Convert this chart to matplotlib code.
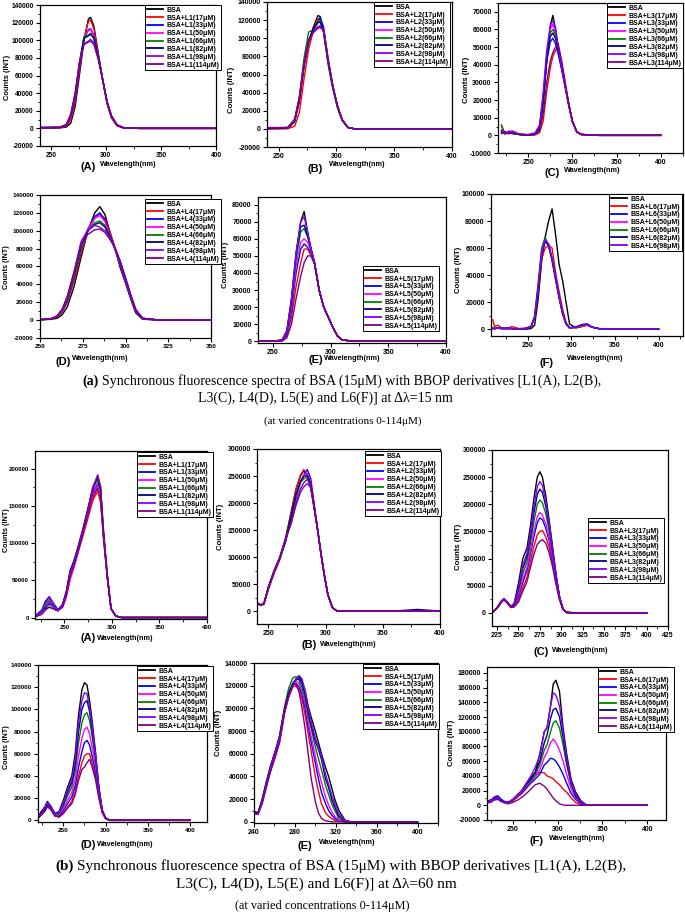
import matplotlib
matplotlib.use("Agg")
import matplotlib.pyplot as plt
from matplotlib.ticker import AutoMinorLocator, FuncFormatter

plt.rcParams['font.family'] = ['Liberation Sans', 'DejaVu Sans']
plt.rcParams['font.weight'] = 'bold'
plt.rcParams['axes.linewidth'] = 0.9

W, H = 685, 915

conc = ['17', '33', '50', '66', '82', '98', '114']
series_colors = ['#000000', '#ff0000', '#0000ff', '#ff00ff', '#008000', '#000080', '#8000ff', '#800080']

# ---------------- delta lambda = 15 nm ----------------
wl_a1 = [240, 258, 264, 268, 272, 276, 280, 284, 286, 289, 293, 297, 301, 305, 310, 316, 330, 400]
counts_a1 = [
    [0, 500, 1500, 6000, 25000, 62000, 100000, 124000, 126000, 116000, 85000, 55000, 28000, 12000, 3000, 500, 0, 0],
    [500, 800, 2500, 10000, 30000, 66000, 102000, 121000, 123000, 113000, 84000, 55000, 28000, 12000, 3000, 500, 0, 0],
    [1000, 1000, 3500, 13000, 34000, 70000, 102000, 112000, 113000, 106000, 82000, 55000, 29000, 13000, 3500, 600, 0, 0],
    [800, 1000, 3500, 13000, 35000, 72000, 104000, 111000, 112000, 105000, 81000, 55000, 29000, 13000, 3500, 600, 0, 0],
    [600, 1200, 4000, 15000, 38000, 76000, 104000, 106000, 108000, 103000, 81000, 55000, 30000, 14000, 4000, 700, 0, 0],
    [800, 1200, 4000, 15000, 38000, 75000, 102000, 105000, 107000, 102000, 80000, 55000, 30000, 14000, 4000, 700, 0, 0],
    [1200, 1300, 4500, 16000, 40000, 76000, 96000, 99000, 101000, 97000, 79000, 55000, 30000, 14000, 4000, 700, 0, 0],
    [600, 1300, 4500, 16000, 40000, 75000, 95000, 98000, 99000, 95000, 78000, 55000, 30000, 14000, 4000, 700, 0, 0],
]

wl_a2 = [240, 258, 264, 268, 272, 276, 280, 284, 286, 289, 293, 297, 301, 305, 310, 316, 330, 400]
counts_a2 = [
    [0, 500, 8000, 30000, 68000, 95000, 112000, 125000, 124000, 108000, 72000, 45000, 24000, 10000, 1500, 0, 0, 0],
    [0, 200, 3000, 18000, 55000, 88000, 108000, 122000, 120000, 106000, 72000, 45000, 24000, 10000, 1500, 0, 0, 0],
    [500, 1000, 9000, 32000, 70000, 96000, 110000, 118000, 123000, 112000, 75000, 46000, 25000, 10000, 1500, 0, 0, 0],
    [1000, 1500, 10000, 33000, 71000, 97000, 108000, 113000, 114000, 110000, 76000, 47000, 25000, 10000, 1500, 0, 0, 0],
    [500, 1500, 11000, 36000, 78000, 107000, 109000, 118000, 120000, 106000, 70000, 44000, 23000, 9000, 1500, 0, 0, 0],
    [500, 1200, 10000, 34000, 72000, 98000, 110000, 117000, 118000, 108000, 74000, 46000, 25000, 10000, 1500, 0, 0, 0],
    [1500, 1500, 10000, 34000, 72000, 97000, 107000, 112000, 113000, 109000, 76000, 47000, 25000, 10000, 1500, 0, 0, 0],
    [1000, 1500, 10000, 34000, 72000, 96000, 106000, 111000, 112000, 108000, 75000, 47000, 25000, 10000, 1500, 0, 0, 0],
]

wl_a3 = [220, 224, 228, 232, 240, 250, 258, 263, 267, 271, 275, 278, 281, 284, 288, 292, 296, 300, 305, 310, 330, 400]
counts_a3 = [
    [3000, 1000, 1500, 1000, 500, 0, 500, 3000, 18000, 42000, 62000, 68000, 60000, 50000, 38000, 28000, 17000, 8000, 2000, 500, 0, 0],
    [6000, 500, 2500, 1500, 800, 0, 300, 1500, 8000, 25000, 38000, 45000, 48000, 50000, 40000, 28000, 17000, 8000, 2000, 500, 0, 0],
    [2000, 1500, 1000, 2000, 500, 0, 800, 4000, 20000, 42000, 53000, 55000, 52000, 46000, 37000, 27000, 17000, 8000, 2000, 500, 0, 0],
    [1500, 1000, 2000, 1500, 800, 200, 1000, 5000, 22000, 45000, 60000, 63000, 58000, 48000, 38000, 28000, 17000, 8000, 2000, 500, 0, 0],
    [5000, 1000, 1500, 1000, 500, 0, 800, 4000, 21000, 44000, 58000, 60000, 57000, 49000, 40000, 29000, 18000, 8000, 2000, 500, 0, 0],
    [2000, 2000, 1000, 1500, 500, 0, 800, 4000, 20000, 42000, 56000, 58000, 55000, 48000, 38000, 28000, 17000, 8000, 2000, 500, 0, 0],
    [2500, 1500, 2000, 2500, 800, 500, 1500, 6000, 24000, 48000, 62000, 65000, 61000, 50000, 38000, 27000, 17000, 8000, 2000, 500, 0, 0],
    [1000, 1500, 1000, 1500, 500, 0, 500, 2500, 12000, 30000, 42000, 47000, 50000, 52000, 42000, 30000, 18000, 8000, 2000, 500, 0, 0],
]

wl_a4 = [250, 256, 260, 263, 266, 270, 274, 278, 282, 285, 288, 291, 294, 297, 300, 303, 306, 310, 320, 335, 350]
counts_a4 = [
    [500, 800, 2000, 6000, 15000, 38000, 70000, 100000, 120000, 127000, 118000, 98000, 80000, 58000, 42000, 24000, 8000, 1000, 0, 0, 0],
    [500, 1000, 3000, 9000, 20000, 44000, 74000, 100000, 114000, 118000, 114000, 98000, 80000, 60000, 42000, 25000, 9000, 1500, 0, 0, 500],
    [800, 1000, 3500, 10000, 22000, 48000, 78000, 102000, 116000, 120000, 112000, 95000, 78000, 60000, 42000, 25000, 9000, 1500, 0, 0, 0],
    [600, 1200, 4000, 11000, 24000, 50000, 80000, 102000, 114000, 117000, 110000, 95000, 78000, 62000, 44000, 26000, 10000, 2000, 0, 500, 0],
    [500, 1200, 4000, 11000, 24000, 50000, 80000, 100000, 109000, 111000, 106000, 94000, 80000, 63000, 45000, 27000, 11000, 2000, 0, 0, 0],
    [500, 1300, 4500, 12000, 26000, 53000, 84000, 100000, 107000, 109000, 104000, 93000, 80000, 64000, 46000, 28000, 11000, 2000, 0, 0, 0],
    [500, 1300, 4500, 12000, 27000, 55000, 88000, 101000, 106000, 104000, 100000, 92000, 80000, 65000, 47000, 28000, 12000, 2000, 0, 500, 0],
    [400, 1300, 4500, 12000, 26000, 54000, 84000, 96000, 101000, 102000, 98000, 90000, 80000, 66000, 48000, 29000, 12000, 2000, 0, 0, 0],
]

wl_a5 = [238, 250, 258, 262, 266, 270, 274, 277, 280, 283, 286, 290, 294, 298, 302, 306, 310, 320, 350, 400]
counts_a5 = [
    [0, 0, 800, 6000, 24000, 50000, 70000, 76000, 64000, 54000, 46000, 30000, 20000, 14000, 8000, 3000, 800, 0, 0, 0],
    [0, 0, 300, 3000, 14000, 32000, 46000, 54000, 54000, 50000, 46000, 30000, 20000, 14000, 8000, 3000, 800, 0, 0, 0],
    [0, 0, 500, 4000, 18000, 40000, 54000, 57000, 55000, 52000, 46000, 30000, 20000, 14000, 8000, 3000, 800, 0, 0, 0],
    [0, 0, 600, 5000, 20000, 44000, 58000, 60000, 58000, 53000, 46000, 30000, 20000, 14000, 8000, 3000, 800, 0, 0, 0],
    [0, 0, 700, 5500, 22000, 48000, 64000, 66000, 61000, 54000, 46000, 30000, 20000, 14000, 8000, 3000, 800, 0, 0, 0],
    [0, 0, 800, 6000, 24000, 52000, 67000, 68000, 62000, 54000, 46000, 30000, 20000, 14000, 8000, 3000, 800, 0, 0, 0],
    [0, 0, 800, 6000, 25000, 52000, 70000, 73000, 64000, 54000, 46000, 30000, 20000, 14000, 8000, 3000, 800, 0, 0, 0],
    [0, 0, 200, 2000, 10000, 25000, 38000, 46000, 50000, 50000, 45000, 30000, 20000, 14000, 8000, 3000, 800, 0, 0, 0],
]

wl_a6 = [210, 212, 216, 220, 226, 232, 240, 248, 254, 258, 262, 266, 270, 274, 278, 282, 286, 290, 294, 298, 305, 312, 318, 324, 335, 400]
counts_a6 = [
    [500, 500, 1000, 800, 1000, 500, 0, 0, 500, 3000, 22000, 50000, 68000, 80000, 89000, 70000, 48000, 36000, 20000, 4000, 1000, 2000, 3000, 1500, 0, 0],
    [7000, 2000, 3000, 1000, 500, 2000, 500, 1000, 2000, 8000, 28000, 52000, 60000, 62000, 60000, 42000, 28000, 15000, 5000, 1500, 1000, 2000, 3000, 1500, 0, 0],
    [1000, 500, 800, 500, 500, 500, 0, 500, 2000, 9000, 30000, 55000, 65000, 62000, 52000, 38000, 24000, 12000, 4000, 1000, 1500, 3000, 3500, 1500, 0, 0],
    [500, 500, 800, 500, 500, 500, 0, 500, 2000, 9000, 31000, 56000, 66000, 63000, 52000, 38000, 24000, 12000, 4000, 1000, 1500, 3000, 3500, 1500, 0, 0],
    [1000, 500, 800, 500, 500, 500, 0, 500, 2500, 10000, 34000, 60000, 68000, 62000, 50000, 36000, 23000, 11000, 4000, 1000, 1500, 3000, 3500, 1500, 0, 0],
    [500, 500, 800, 500, 500, 500, 0, 500, 2000, 9000, 30000, 56000, 65000, 62000, 52000, 38000, 24000, 12000, 4000, 1000, 1500, 3500, 4000, 1500, 0, 0],
    [500, 500, 800, 500, 500, 500, 0, 500, 2000, 9000, 31000, 57000, 66000, 63000, 52000, 38000, 24000, 12000, 4000, 1000, 1500, 3000, 3500, 1500, 0, 0],
]

# ---------------- delta lambda = 60 nm ----------------
wl_b1 = [220, 226, 230, 234, 238, 243, 248, 252, 256, 260, 265, 270, 275, 280, 285, 288, 291, 295, 299, 304, 310, 340, 400]
counts_b1 = [
    [3000, 8000, 12000, 14000, 12000, 9000, 18000, 35000, 62000, 75000, 96000, 118000, 140000, 162000, 175000, 160000, 110000, 55000, 12000, 2000, 0, 0, 0],
    [2000, 8000, 20000, 25000, 18000, 10000, 14000, 28000, 52000, 68000, 90000, 112000, 135000, 158000, 170000, 155000, 108000, 55000, 12000, 2000, 0, 0, 0],
    [3000, 10000, 22000, 28000, 20000, 11000, 16000, 32000, 58000, 72000, 95000, 118000, 142000, 168000, 180000, 165000, 112000, 56000, 12000, 2000, 0, 0, 0],
    [2000, 8000, 18000, 24000, 18000, 10000, 14000, 28000, 52000, 68000, 92000, 116000, 140000, 165000, 178000, 163000, 110000, 55000, 12000, 2000, 0, 0, 0],
    [2000, 8000, 18000, 22000, 17000, 10000, 16000, 34000, 62000, 76000, 98000, 122000, 148000, 174000, 185000, 168000, 113000, 56000, 12000, 2000, 0, 0, 0],
    [2000, 7000, 14000, 18000, 15000, 10000, 17000, 35000, 63000, 76000, 98000, 122000, 148000, 176000, 188000, 172000, 115000, 57000, 12000, 2000, 0, 0, 0],
    [2000, 7000, 15000, 20000, 16000, 10000, 16000, 33000, 60000, 74000, 96000, 120000, 146000, 176000, 192000, 176000, 118000, 58000, 12000, 2000, 0, 0, 0],
    [1000, 4000, 10000, 14000, 12000, 9000, 14000, 30000, 56000, 70000, 92000, 116000, 140000, 172000, 190000, 176000, 118000, 58000, 12000, 2000, 0, 0, 0],
]

wl_b2 = [240, 243, 246, 250, 255, 260, 265, 270, 274, 278, 281, 284, 287, 290, 293, 296, 299, 302, 306, 310, 320, 360, 380, 400]
counts_b2 = [
    [15000, 11000, 14000, 45000, 75000, 100000, 135000, 185000, 225000, 250000, 260000, 250000, 228000, 190000, 150000, 105000, 65000, 30000, 6000, 0, 0, 0, 0, 0],
    [16000, 12000, 12000, 40000, 70000, 95000, 132000, 182000, 225000, 252000, 262000, 252000, 228000, 190000, 150000, 105000, 65000, 30000, 6000, 0, 0, 0, 0, 0],
    [14000, 11000, 13000, 42000, 72000, 98000, 130000, 170000, 208000, 238000, 252000, 262000, 245000, 198000, 152000, 106000, 65000, 30000, 6000, 0, 0, 0, 0, 0],
    [15000, 11000, 13000, 43000, 73000, 98000, 128000, 172000, 212000, 240000, 252000, 255000, 238000, 195000, 150000, 105000, 65000, 30000, 6000, 0, 0, 0, 0, 0],
    [14000, 11000, 13000, 43000, 73000, 98000, 130000, 178000, 215000, 238000, 245000, 248000, 232000, 192000, 150000, 105000, 65000, 30000, 6000, 0, 0, 0, 0, 0],
    [14000, 11000, 13000, 43000, 73000, 98000, 130000, 176000, 215000, 240000, 250000, 250000, 235000, 194000, 150000, 105000, 65000, 30000, 6000, 0, 0, 0, 3000, 0],
    [15000, 11000, 14000, 45000, 75000, 100000, 132000, 165000, 195000, 220000, 230000, 236000, 228000, 192000, 150000, 105000, 65000, 30000, 6000, 0, 0, 0, 0, 0],
    [15000, 11000, 14000, 44000, 74000, 100000, 135000, 162000, 198000, 226000, 238000, 244000, 232000, 193000, 150000, 105000, 65000, 30000, 6000, 0, 0, 0, 0, 0],
]

wl_b3 = [220, 225, 230, 233, 237, 241, 245, 250, 255, 260, 264, 268, 272, 275, 278, 282, 286, 290, 294, 298, 302, 306, 320, 360, 400]
counts_b3 = [
    [2000, 10000, 22000, 26000, 20000, 12000, 18000, 55000, 100000, 120000, 160000, 210000, 250000, 260000, 250000, 215000, 170000, 120000, 70000, 30000, 8000, 1000, 0, 0, 0],
    [2000, 9000, 21000, 25000, 19000, 10000, 12000, 24000, 46000, 66000, 94000, 122000, 144000, 150000, 152000, 140000, 120000, 90000, 56000, 26000, 7000, 1000, 0, 0, 0],
    [2000, 10000, 22000, 26000, 20000, 11000, 13000, 30000, 56000, 78000, 108000, 140000, 166000, 175000, 172000, 156000, 132000, 98000, 60000, 27000, 7000, 1000, 0, 0, 0],
    [2000, 9000, 21000, 25000, 19000, 11000, 14000, 34000, 62000, 84000, 115000, 150000, 178000, 185000, 180000, 164000, 138000, 102000, 62000, 28000, 7000, 1000, 0, 0, 0],
    [2000, 9000, 20000, 25000, 19000, 11000, 15000, 40000, 72000, 95000, 128000, 168000, 200000, 208000, 203000, 182000, 150000, 110000, 66000, 29000, 8000, 1000, 0, 0, 0],
    [2000, 9000, 20000, 25000, 19000, 11000, 16000, 45000, 82000, 104000, 140000, 184000, 218000, 228000, 222000, 196000, 160000, 115000, 68000, 30000, 8000, 1000, 0, 0, 0],
    [2000, 10000, 22000, 26000, 20000, 12000, 17000, 48000, 88000, 110000, 148000, 195000, 232000, 242000, 235000, 205000, 165000, 118000, 70000, 30000, 8000, 1000, 0, 0, 0],
    [2000, 9000, 20000, 24000, 18000, 10000, 11000, 20000, 40000, 58000, 84000, 108000, 126000, 132000, 135000, 128000, 110000, 84000, 52000, 24000, 6000, 1000, 0, 0, 0],
]

wl_b4 = [220, 224, 228, 231, 235, 240, 245, 250, 255, 260, 264, 268, 272, 275, 278, 281, 284, 288, 292, 296, 300, 305, 310, 330, 370, 400]
counts_b4 = [
    [3000, 8000, 12000, 17000, 13000, 6000, 8000, 18000, 30000, 40000, 60000, 95000, 118000, 124000, 122000, 108000, 90000, 62000, 30000, 9000, 2000, 0, 0, 0, 0, 0],
    [2000, 5000, 9000, 13000, 10000, 4000, 3000, 7000, 12000, 17000, 26000, 40000, 52000, 58000, 60000, 60000, 52000, 40000, 22000, 7000, 1500, 0, 0, 0, 0, 0],
    [2000, 5000, 9000, 13000, 11000, 4000, 4000, 9000, 15000, 21000, 31000, 48000, 62000, 70000, 72000, 68000, 58000, 44000, 24000, 8000, 2000, 0, 0, 0, 0, 0],
    [2000, 5000, 9000, 13000, 11000, 5000, 5000, 11000, 18000, 25000, 37000, 58000, 74000, 82000, 84000, 78000, 66000, 49000, 26000, 8000, 2000, 0, 0, 0, 0, 0],
    [2000, 6000, 10000, 14000, 12000, 5000, 6000, 13000, 22000, 30000, 45000, 70000, 88000, 95000, 97000, 90000, 76000, 55000, 28000, 9000, 2000, 0, 0, 0, 0, 0],
    [2000, 6000, 10000, 14000, 12000, 6000, 7000, 15000, 25000, 34000, 50000, 80000, 100000, 106000, 108000, 98000, 82000, 58000, 29000, 9000, 2000, 0, 0, 0, 0, 0],
    [2000, 6000, 12000, 16000, 13000, 6000, 7000, 16000, 27000, 37000, 55000, 88000, 108000, 115000, 114000, 102000, 86000, 60000, 30000, 9000, 2000, 0, 0, 0, 0, 0],
    [2000, 5000, 8000, 12000, 10000, 4000, 3000, 6000, 11000, 15000, 23000, 36000, 46000, 48000, 52000, 55000, 48000, 37000, 20000, 7000, 1500, 0, 0, 0, 0, 0],
]

wl_b5 = [240, 244, 248, 252, 256, 261, 265, 270, 274, 278, 281, 284, 287, 290, 293, 296, 300, 303, 306, 310, 313, 316, 319, 323, 329, 335, 360, 400]
counts_b5 = [
    [9000, 8000, 20000, 35000, 48000, 62000, 75000, 100000, 113000, 122000, 126000, 128000, 124000, 116000, 102000, 92000, 80000, 70000, 60000, 48000, 40000, 30000, 20000, 10000, 1500, 0, 0, 0],
    [8000, 7000, 17000, 31000, 44000, 58000, 70000, 96000, 110000, 119000, 120000, 116000, 108000, 94000, 78000, 62000, 40000, 27000, 16000, 8000, 5000, 3000, 1500, 500, 0, 0, 0, 0],
    [8000, 7000, 18000, 33000, 47000, 61000, 73000, 99000, 113000, 121000, 122000, 119000, 112000, 100000, 84000, 70000, 52000, 38000, 26000, 16000, 10000, 6000, 3000, 1000, 0, 0, 0, 0],
    [7000, 7000, 17000, 32000, 46000, 60000, 72000, 98000, 112000, 121000, 124000, 122000, 115000, 104000, 88000, 75000, 58000, 45000, 35000, 22000, 15000, 9000, 5000, 1500, 0, 0, 0, 0],
    [8000, 8000, 19000, 35000, 49000, 63000, 76000, 102000, 118000, 127000, 128000, 125000, 118000, 108000, 93000, 82000, 66000, 56000, 46000, 32000, 24000, 16000, 10000, 3000, 0, 0, 0, 0],
    [9000, 8000, 19000, 34000, 48000, 63000, 75000, 100000, 114000, 122000, 125000, 126000, 122000, 112000, 97000, 85000, 71000, 64000, 55000, 38000, 30000, 20000, 13000, 5000, 500, 0, 0, 0],
    [8000, 7000, 18000, 33000, 47000, 62000, 74000, 98000, 110000, 120000, 126000, 129000, 126000, 115000, 100000, 88000, 74000, 66000, 58000, 42000, 33000, 24000, 16000, 7000, 1000, 0, 0, 0],
    [7000, 7000, 16000, 30000, 44000, 58000, 70000, 97000, 112000, 120000, 122000, 115000, 100000, 82000, 60000, 38000, 18000, 8000, 3000, 1000, 500, 0, 0, 0, 0, 0, 0, 0],
]

wl_b6 = [220, 225, 229, 233, 237, 241, 245, 250, 255, 260, 265, 270, 275, 280, 285, 288, 292, 295, 298, 302, 306, 310, 315, 320, 326, 332, 340, 370, 400]
counts_b6 = [
    [5000, 7000, 9000, 9000, 6000, 4000, 4000, 8000, 14000, 20000, 30000, 38000, 45000, 70000, 100000, 105000, 135000, 165000, 170000, 155000, 105000, 70000, 35000, 18000, 6000, 500, 0, 0, 0],
    [4000, 6000, 11000, 12000, 7000, 4000, 3000, 6000, 11000, 16000, 23000, 32000, 40000, 45000, 44000, 40000, 38000, 36000, 32000, 28000, 22000, 18000, 10000, 4000, 500, 0, 0, 0, 0],
    [4000, 6000, 11000, 13000, 8000, 5000, 4000, 7000, 12000, 17000, 24000, 30000, 36000, 42000, 55000, 58000, 64000, 63000, 60000, 52000, 42000, 30000, 16000, 8000, 2000, 0, 0, 0, 0],
    [5000, 6000, 9000, 10000, 6000, 4000, 4000, 7000, 12000, 18000, 26000, 32000, 40000, 48000, 65000, 72000, 85000, 90000, 85000, 75000, 60000, 42000, 22000, 10000, 3000, 500, 0, 0, 0],
    [5000, 6000, 9000, 9000, 6000, 4000, 4000, 7000, 13000, 19000, 27000, 34000, 42000, 55000, 75000, 82000, 100000, 112000, 115000, 105000, 82000, 55000, 28000, 12000, 4000, 500, 0, 0, 0],
    [5000, 7000, 9000, 10000, 6000, 4000, 4000, 8000, 14000, 20000, 29000, 36000, 45000, 60000, 85000, 95000, 118000, 130000, 132000, 120000, 92000, 60000, 30000, 13000, 4000, 500, 0, 0, 0],
    [4000, 6000, 10000, 10000, 6000, 4000, 4000, 8000, 14000, 20000, 30000, 40000, 52000, 68000, 100000, 105000, 135000, 153000, 150000, 135000, 100000, 65000, 32000, 15000, 5000, 500, 0, 0, 0],
    [3000, 4000, 7000, 8000, 5000, 3000, 2000, 4000, 7000, 11000, 16000, 22000, 28000, 30000, 26000, 22000, 15000, 10000, 6000, 2000, 500, 0, 0, 0, 0, 0, 0, 0, 0],
]


def fx(x):
    return x / W


def fy(y):
    return 1 - y / H


fig = plt.figure(figsize=(W / 100, H / 100), dpi=100)


def panel(wl, counts, ligand, letter, rect, xlim, ylim, xticks, yticks,
          leg_xy, ylab_xy, letter_xy, wave_xy, tick_size=5.0, ylab_size=5.6):
    l, t, r, b = rect
    ax = fig.add_axes([fx(l), fy(b), (r - l) / W, (b - t) / H])
    labels = ['BSA'] + [f'BSA+{ligand}({c}μM)' for c in conc]
    for y, col, lab in zip(counts, series_colors, labels):
        ax.plot(wl, y, color=col, lw=1.0, label=lab)
    ax.set_xlim(*xlim)
    ax.set_ylim(*ylim)
    ax.set_xticks(xticks)
    ax.set_yticks(yticks)
    ax.xaxis.set_minor_locator(AutoMinorLocator(2))
    ax.yaxis.set_minor_locator(AutoMinorLocator(2))
    ax.yaxis.set_major_formatter(FuncFormatter(lambda v, p: f'{v:.0f}'))
    ax.tick_params(which='both', direction='out', top=False, right=False,
                   labelsize=tick_size, pad=1.5)
    ax.tick_params(which='major', length=3, width=0.8)
    ax.tick_params(which='minor', length=1.8, width=0.6)
    leg = ax.legend(loc='upper left', bbox_to_anchor=(fx(leg_xy[0]), fy(leg_xy[1])),
                    bbox_transform=fig.transFigure, borderaxespad=0, fontsize=5,
                    labelspacing=0.12, handlelength=2.4, handletextpad=0.4,
                    borderpad=0.25, fancybox=False, framealpha=1, edgecolor='black')
    leg.get_frame().set_linewidth(0.7)
    for ln in leg.get_lines():
        ln.set_linewidth(1.3)
    fig.text(fx(ylab_xy[0]), fy(ylab_xy[1]), 'Counts (INT)', rotation=90,
             ha='center', va='center', fontsize=ylab_size)
    fig.text(fx(letter_xy[0]), fy(letter_xy[1]), f'({letter})',
             ha='center', va='center', fontsize=8)
    fig.text(fx(wave_xy[0]), fy(wave_xy[1]), 'Wavelength(nm)',
             ha='center', va='center', fontsize=5.2)
    return ax


x4 = [250, 300, 350, 400]
y20k = list(range(-20000, 140001, 20000))

panel(wl_a1, counts_a1, 'L1', 'A', (40, 5, 216, 146), (240, 400), (-20000, 140000), x4, y20k,
      (145, 5), (8, 77), (88, 167), (128, 164), tick_size=4.8, ylab_size=5.4)
panel(wl_a2, counts_a2, 'L2', 'B', (267, 2, 452, 147), (240, 400), (-20000, 140000), x4, y20k,
      (374, 2), (231, 90), (315, 169), (357, 165))
panel(wl_a3, counts_a3, 'L3', 'C', (498, 3, 683, 153), (216, 425), (-10000, 75000), x4,
      list(range(-10000, 70001, 10000)), (607, 3), (466, 80), (552, 173), (592, 170))
panel(wl_a4, counts_a4, 'L4', 'D', (40, 195, 211, 338), (250, 350), (-20000, 140000),
      list(range(250, 351, 25)), y20k, (145, 199), (6, 267), (63, 362), (100, 358),
      tick_size=4.6, ylab_size=5.2)
panel(wl_a5, counts_a5, 'L5', 'E', (258, 197, 446, 343), (237, 400), (-1000, 84500), x4,
      list(range(0, 80001, 10000)), (363, 266), (226, 265), (316, 360), (352, 358))
panel(wl_a6, counts_a6, 'L6', 'F', (491, 194, 683, 336), (208, 428), (-5000, 100000), x4,
      list(range(0, 100001, 20000)), (609, 194), (458, 270), (547, 363), (595, 358))

panel(wl_b1, counts_b1, 'L1', 'A', (35, 451, 207, 619), (219, 400), (-2000, 224000), x4,
      list(range(0, 200001, 50000)), (137, 452), (7, 530), (88, 638), (125, 638),
      tick_size=4.4, ylab_size=5.2)
panel(wl_b2, counts_b2, 'L2', 'B', (257, 449, 440, 624), (240, 400), (-24000, 300000), x4,
      list(range(0, 300001, 50000)), (365, 451), (220, 527), (309, 645), (348, 645))
panel(wl_b3, counts_b3, 'L3', 'C', (492, 450, 668, 626), (219, 425), (-24000, 300000),
      list(range(225, 426, 25)), list(range(0, 300001, 50000)), (588, 518), (459, 547),
      (541, 652), (580, 650))
panel(wl_b4, counts_b4, 'L4', 'D', (38, 665, 207, 822), (220, 420), (-1500, 140000), x4,
      list(range(0, 140001, 20000)), (137, 666), (7, 747), (88, 845), (125, 845),
      tick_size=4.6, ylab_size=5.2)
panel(wl_b5, counts_b5, 'L5', 'E', (254, 663, 438, 823), (240, 420), (-1000, 140000),
      list(range(240, 401, 40)), list(range(0, 140001, 20000)), (363, 664), (218, 733),
      (305, 846), (347, 843))
panel(wl_b6, counts_b6, 'L6', 'F', (487, 667, 666, 820), (221, 421), (-20000, 188000), x4,
      list(range(-20000, 180001, 20000)), (598, 667), (452, 743), (537, 841), (577, 839))

# captions
renderer = fig.canvas.get_renderer()
serif = ['Liberation Serif', 'DejaVu Serif']
line1 = 'Synchronous fluorescence spectra of BSA (15μM) with BBOP derivatives [L1(A), L2(B),'


def caption(tag, dl, y1, y2, y3, c1, c2, c3, size):
    t1 = fig.text(0, fy(y1), tag, fontsize=size, family=serif, weight='bold', va='center')
    t2 = fig.text(0, fy(y1), line1, fontsize=size, family=serif, weight='normal', va='center')
    w1 = t1.get_window_extent(renderer).width
    w2 = t2.get_window_extent(renderer).width
    gap = size * 0.35
    x0 = c1 - (w1 + gap + w2) / 2
    t1.set_x(fx(x0))
    t2.set_x(fx(x0 + w1 + gap))
    fig.text(fx(c2), fy(y2), f'L3(C), L4(D), L5(E) and L6(F)] at Δλ={dl} nm', fontsize=size,
             family=serif, weight='normal', ha='center', va='center')
    fig.text(fx(c3), fy(y3), '(at varied concentrations 0-114μM)', fontsize=size * 0.8,
             family=serif, weight='normal', ha='center', va='center')


caption('(a)', 15, 381, 398, 421, 342, 325, 343, 10)
caption('(b)', 60, 866, 884, 906, 341, 316, 322, 11)

fig.savefig('out.png', dpi=100)
